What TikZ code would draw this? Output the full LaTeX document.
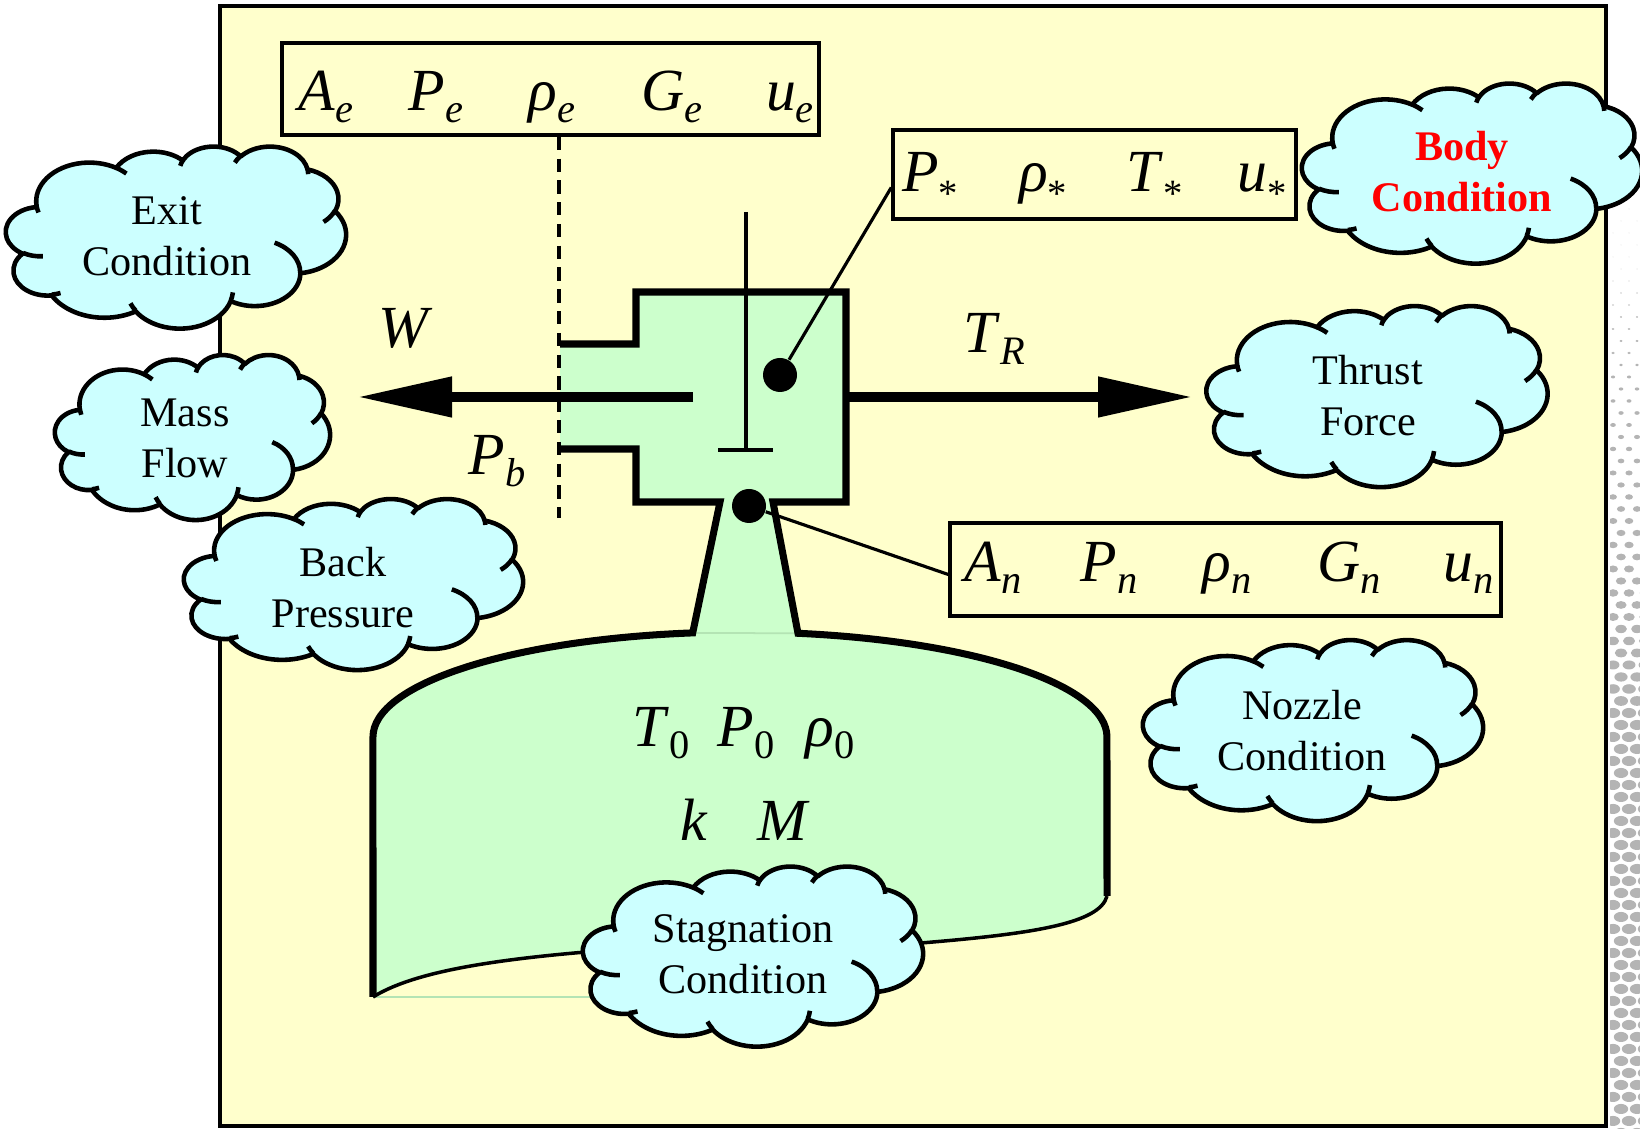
\documentclass[tikz,border=0pt]{standalone}
\usepackage{fontspec}
\setmainfont{Liberation Serif}
\usetikzlibrary{arrows.meta}

\definecolor{paper}{HTML}{FFFFCC}
\definecolor{gas}{HTML}{CCFFCC}
\definecolor{seam}{HTML}{B4E4B4}
\definecolor{cloudfill}{HTML}{CCFFFF}
\definecolor{screen}{HTML}{B4B4B4}

\newcommand{\prm}[2]{\textit{#1}\raisebox{-0.12cm}{\fontsize{11.5}{11.5}\selectfont\textit{#2}}}
\newcommand{\prmz}[2]{\textit{#1}\raisebox{-0.12cm}{\fontsize{11.5}{11.5}\selectfont #2}}
\newcommand{\prmst}[1]{\textit{#1}\raisebox{-0.15cm}{\fontsize{11}{11}\selectfont *}}

% elliptic arc given by radii, start angle and sweep measured on the outline
\newcommand{\pptarc}[4]{arc[x radius=#1, y radius=#2,
  start angle={atan2(#1*sin(#3),#2*cos(#3))},
  delta angle={mod(atan2(#1*sin(#3+#4),#2*cos(#3+#4))-atan2(#1*sin(#3),#2*cos(#3))+540,360)-180}]}

\tikzset{
  cloudline/.style={line width=1.3pt, line join=round},
  pics/pptcloud/.style 2 args={code={
    \begin{scope}[xscale=#1/43.2, yscale=-#2/43.2, shift={(-21.6,-21.6)}]
      \draw[cloudline, fill=cloudfill] (3.9,14.37)
        \pptarc{6.753}{9.19}{-190.4875}{123.7805}
        \pptarc{5.333}{7.267}{-144.1024}{89.9452}
        \pptarc{4.365}{5.945}{-145.8079}{99.7230}
        \pptarc{4.857}{6.595}{-130.9861}{117.2417}
        \pptarc{5.333}{7.273}{-78.7089}{109.0269}
        \pptarc{6.775}{9.22}{-46.2673}{130.2690}
        \pptarc{5.785}{7.867}{0.6250}{114.0333}
        \pptarc{6.752}{9.215}{22.4516}{115.1726}
        \pptarc{7.72}{10.543}{66.2426}{75.7110}
        \pptarc{4.36}{5.918}{-274.9421}{146.7356}
        \pptarc{4.345}{5.945}{-246.8285}{152.5189} -- cycle;
      \draw[cloudline]
        (4.693,26.177) \pptarc{4.345}{5.945}{86.742}{26.4295}
        (6.928,34.899) \pptarc{4.36}{5.918}{73.6105}{11.4475}
        (16.478,39.09) \pptarc{6.752}{9.215}{137.6242}{14.0811}
        (28.827,34.751) \pptarc{6.752}{9.215}{6.4533}{15.9984}
        (34.129,22.954) \pptarc{5.785}{7.867}{-70.2924}{70.9174}
        (41.798,15.354) \pptarc{5.333}{7.273}{30.3180}{27.7515}
        (38.324,5.426) \pptarc{4.857}{6.595}{-13.7443}{14.8512}
        (29.078,3.952) \pptarc{4.857}{6.595}{-149.1815}{18.1959}
        (22.141,4.72) \pptarc{4.365}{5.945}{-163.4943}{17.6844}
        (14.0,5.192) \pptarc{6.753}{9.19}{-66.7070}{12.3194}
        (4.127,15.789) \pptarc{6.753}{9.19}{157.6544}{11.8582};
    \end{scope}
  }}
}

\begin{document}
\begin{tikzpicture}[
    every node/.style={font=\fontsize{12}{14.5}\selectfont},
    condtext/.style={align=center, inner sep=0pt},
    parbox/.style={draw, rectangle, line width=1pt, inner sep=0pt},
    sym/.style={font=\fontsize{17}{20}\selectfont, anchor=base, inner sep=0pt},
    wall/.style={line width=2pt},
    dot/.style={circle, fill=black, minimum size=0.34cm, inner sep=0pt},
    lead/.style={line width=0.9pt},
    flow/.style={line width=3.1pt, -{Triangle[length=0.95cm, width=0.38cm]}}
]
\useasboundingbox (0,0) rectangle (16.4,11.29);

% halftone strip right of the slide
\begin{scope}
  \clip (16.10,0) rectangle (16.40,9.3);
  \foreach \r in {0,...,77} {
    \pgfmathsetmacro{\dotw}{min(0.072,max(0.004,0.0018*\r-0.004))}
    \pgfmathsetmacro{\doth}{0.7*\dotw}
    \pgfmathsetmacro{\doty}{9.2-0.12*\r}
    \pgfmathsetmacro{\dotoff}{mod(\r,2)*0.08}
    \foreach \c in {0,1,2}
      \fill[screen] (16.13+\dotoff+0.16*\c,\doty) ellipse [x radius=\dotw, y radius=\doth];
  }
\end{scope}

\draw[line width=1.3pt, fill=paper] (2.20,0.03) rectangle (16.06,11.23);

% chamber, throat and tank
\fill[gas] (5.60,7.85) -- (6.36,7.85) -- (6.36,8.37) -- (8.46,8.37) -- (8.46,6.27) -- (7.73,6.27)
  -- (7.98,4.957) arc[start angle=80.9, end angle=0, x radius=3.67, y radius=1.05] -- (11.07,2.33)
  .. controls (11.0,2.05) and (10.3,1.95) .. (9.21,1.86) -- (5.86,1.77)
  .. controls (4.8,1.68) and (4.1,1.55) .. (3.73,1.32) -- (3.73,3.92)
  arc[start angle=180, end angle=97.4, x radius=3.67, y radius=1.05] -- (7.20,6.27)
  -- (6.36,6.27) -- (6.36,6.80) -- (5.60,6.80) -- cycle;
\draw[seam, line width=0.5pt] (6.927,4.961) -- (7.98,4.957);
\draw[seam, line width=0.8pt] (3.73,1.32) -- (5.9,1.32);

\draw[line width=0.9pt] (7.46,9.17) -- (7.46,6.79);
\draw[line width=0.9pt] (7.18,6.79) -- (7.73,6.79);

\draw[wall] (5.60,7.85) -- (6.36,7.85) -- (6.36,8.37) -- (8.46,8.37) -- (8.46,6.27) -- (7.73,6.27)
  -- (7.98,4.957) arc[start angle=80.9, end angle=0, x radius=3.67, y radius=1.05] -- (11.07,2.33);
\draw[wall] (5.60,6.80) -- (6.36,6.80) -- (6.36,6.27) -- (7.20,6.27) -- (6.927,4.961)
  arc[start angle=97.4, end angle=180, x radius=3.67, y radius=1.05] -- (3.73,1.32);
\draw[line width=1pt] (11.07,2.33) .. controls (11.0,2.05) and (10.3,1.95) .. (9.21,1.86) -- (5.86,1.77)
  .. controls (4.8,1.68) and (4.1,1.55) .. (3.73,1.32);

% parameter boxes
\node[parbox, minimum width=5.37cm, minimum height=0.92cm] (exitbox) at (5.505,10.40) {};
\node[parbox, minimum width=4.03cm, minimum height=0.89cm] (starbox) at (10.945,9.545) {};
\node[parbox, minimum width=5.51cm, minimum height=0.93cm] (nozzlebox) at (12.255,5.595) {};

\foreach \s/\x [count=\i] in {A/3.26, P/4.36, ρ/5.52, G/6.72, u/7.90}
  \node[sym] (exit\i) at (\x,10.18) {\prm{\s}{e}};
\foreach \s/\x [count=\i] in {P/9.30, ρ/10.43, T/11.55, u/12.62}
  \node[sym] (star\i) at (\x,9.37) {\prmst{\s}};
\foreach \s/\x [count=\i] in {A/9.93, P/11.09, ρ/12.27, G/13.49, u/14.69}
  \node[sym] (nozzle\i) at (\x,5.47) {\prm{\s}{n}};

\coordinate (exitend) at (5.59,6.11);
\draw[line width=0.9pt, dash pattern=on 3.8pt off 2.4pt] (exitbox.south -| exitend) -- (exitend);

\node[dot] (bodypt) at (7.80,7.54) {};
\node[dot] (throatpt) at (7.49,6.23) {};
\draw[lead] (bodypt) -- ([yshift=-0.13cm]starbox.west);
\draw[lead] (throatpt) -- ([yshift=-0.05cm]nozzlebox.west);

% mass flow and thrust
\coordinate (wtail) at (6.93,7.32);
\coordinate (wtip) at (3.57,7.32);
\coordinate (ttail) at (8.46,7.32);
\coordinate (ttip) at (11.93,7.32);
\draw[flow] (wtail) -- (wtip);
\draw[flow] (ttail) -- (ttip);

\node[sym, anchor=center] (wlab) at (4.06,8.01) {\textit{W}};
\node[sym, anchor=center] (trlab) at (9.94,7.90) {\prm{T}{R}};
\node[sym, anchor=center] (pblab) at (4.97,6.68) {\prm{P}{b}};

\node[sym] (t0) at (6.61,3.82) {\prmz{T}{0}};
\node[sym] (p0) at (7.46,3.82) {\prmz{P}{0}};
\node[sym] (rho0) at (8.30,3.82) {\prmz{ρ}{0}};
\node[sym] (klab) at (6.94,2.88) {\textit{k}};
\node[sym] (mlab) at (7.84,2.88) {\textit{M}};

% condition clouds
\pic (exit) at (1.76,8.92) {pptcloud={3.40}{1.82}};
\node[condtext] (exit-t) at (1.67,8.93) {Exit\\Condition};
\pic (mass) at (1.925,6.92) {pptcloud={2.75}{1.65}};
\node[condtext] (mass-t) at (1.85,6.91) {Mass\\Flow};
\pic (back) at (3.535,5.45) {pptcloud={3.39}{1.71}};
\node[condtext] (back-t) at (3.43,5.41) {Back\\Pressure};
\pic (body) at (14.72,9.56) {pptcloud={3.40}{1.80}};
\node[condtext, text=red, font=\bfseries\fontsize{12}{14.5}\selectfont] (body-t) at (14.62,9.57) {Body\\Condition};
\pic (thrust) at (13.77,7.33) {pptcloud={3.41}{1.81}};
\node[condtext] (thrust-t) at (13.68,7.33) {Thrust\\Force};
\pic (nozzle) at (13.13,3.99) {pptcloud={3.40}{1.81}};
\node[condtext] (nozzle-t) at (13.02,3.98) {Nozzle\\Condition};
\pic (stag) at (7.53,1.73) {pptcloud={3.40}{1.80}};
\node[condtext] (stag-t) at (7.43,1.745) {Stagnation\\Condition};
\end{tikzpicture}
\end{document}
